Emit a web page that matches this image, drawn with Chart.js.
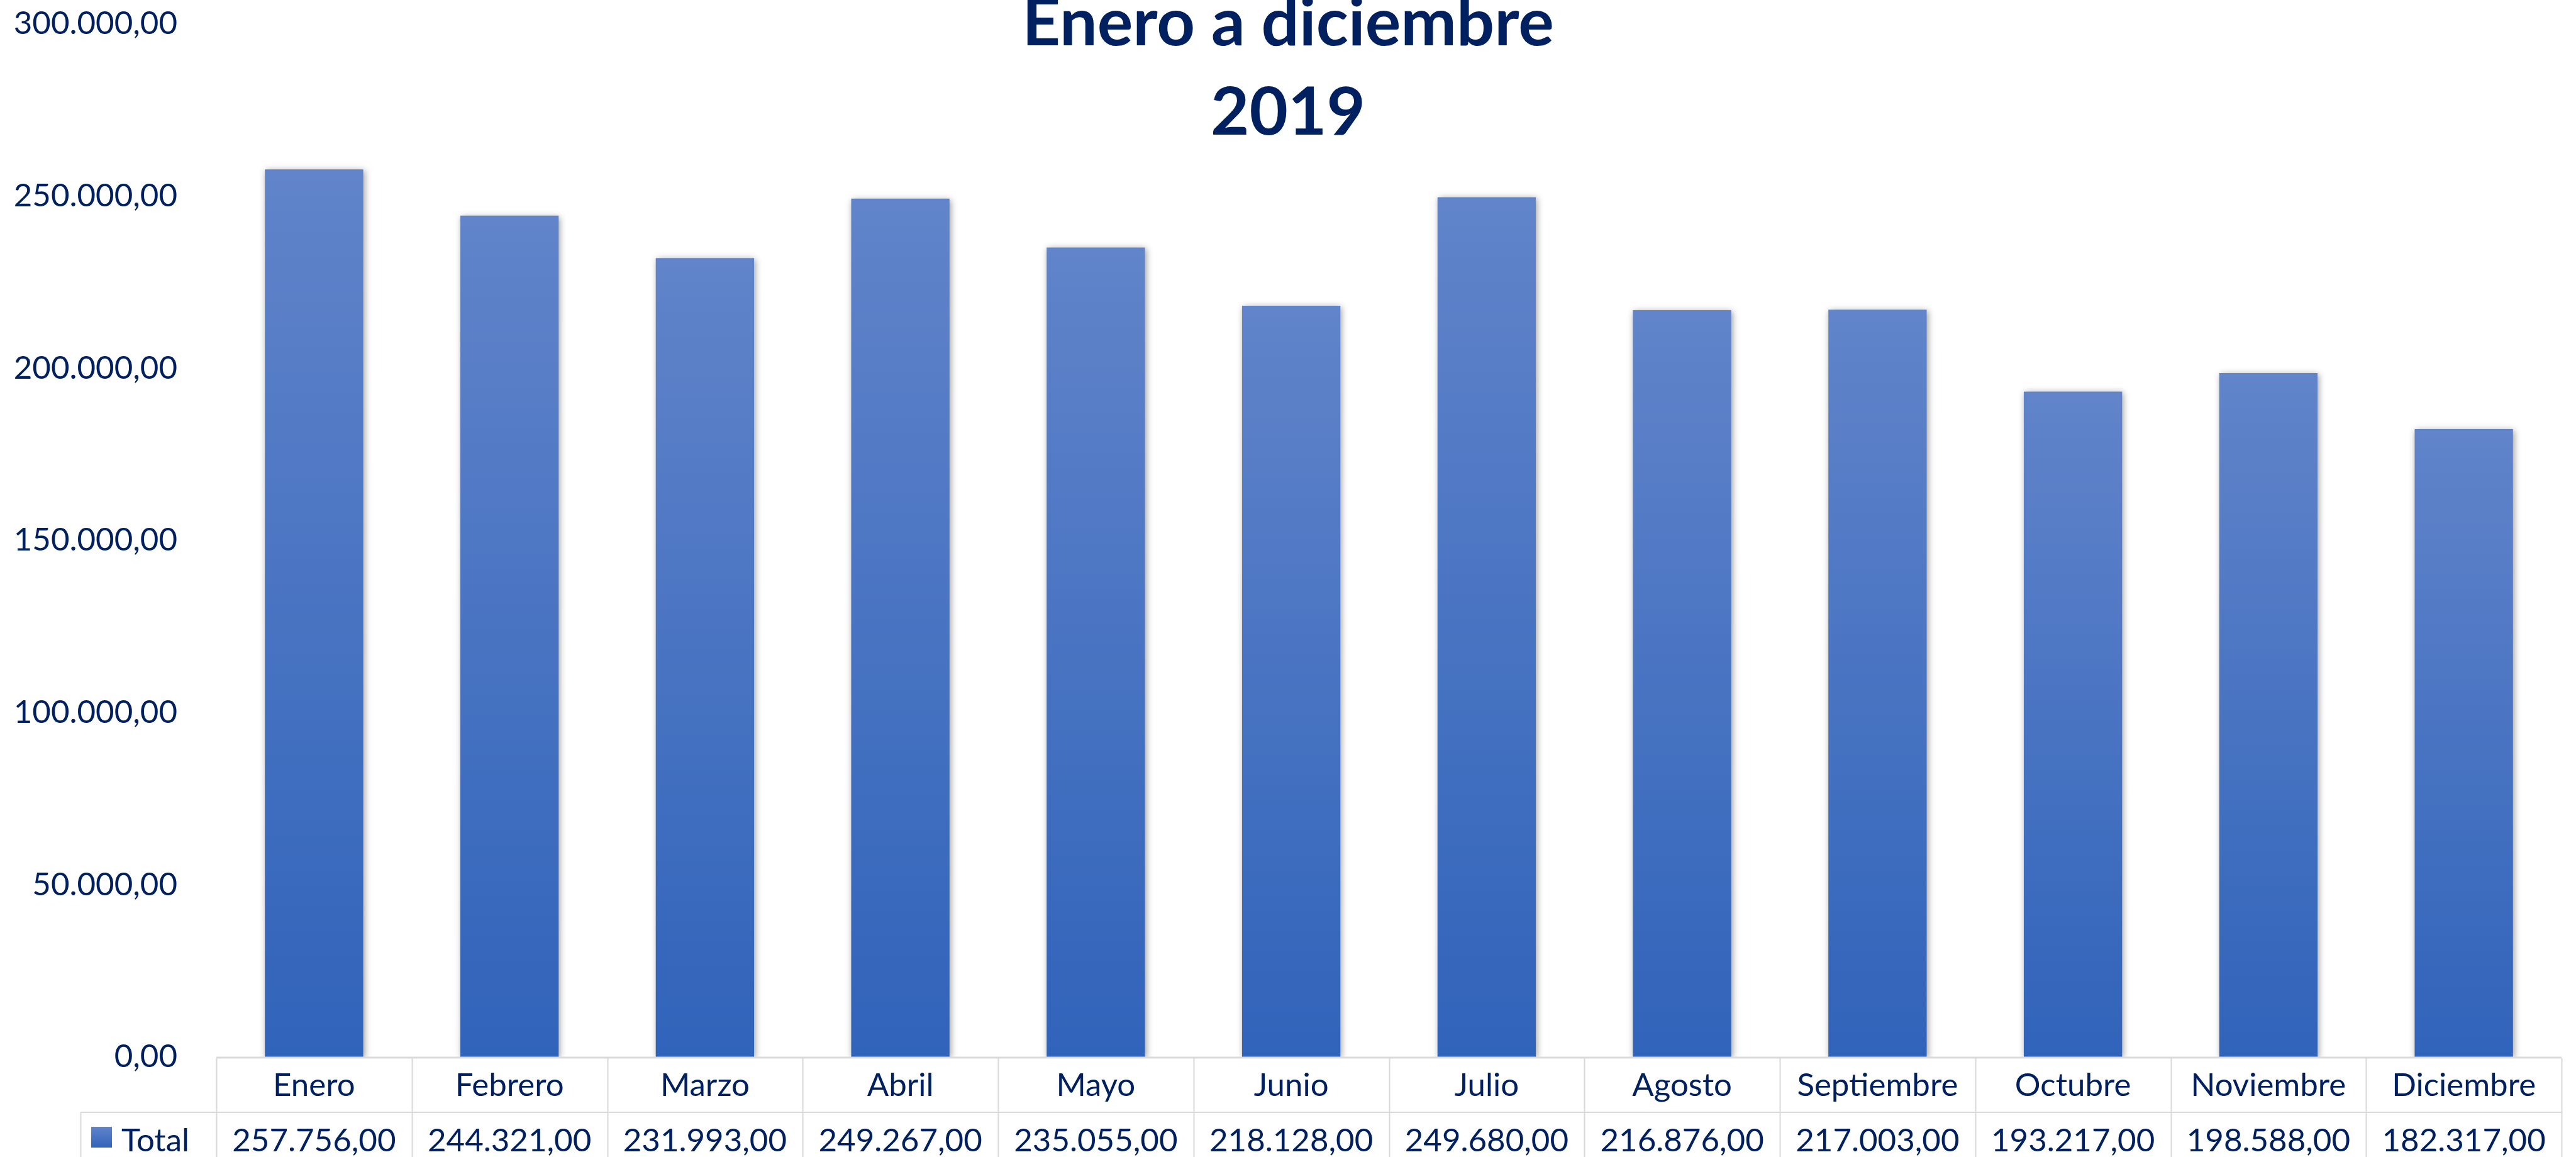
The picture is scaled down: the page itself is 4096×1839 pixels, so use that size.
<!DOCTYPE html>
<html>
<head>
<meta charset="utf-8">
<script src="https://cdn.jsdelivr.net/npm/chart.js@4.4.0/dist/chart.umd.min.js"></script>
<style>
  html, body { margin: 0; padding: 0; background: #fff; overflow: hidden; }
  #wrap { width: 4096px; height: 1839px; position: relative; }
</style>
</head>
<body>
<div id="wrap"><canvas id="chart"></canvas></div>
<script>
// ── data ────────────────────────────────────────────────
const months = ["Enero", "Febrero", "Marzo", "Abril", "Mayo", "Junio",
                "Julio", "Agosto", "Septiembre", "Octubre", "Noviembre", "Diciembre"];
const totals = [257756, 244321, 231993, 249267, 235055, 218128,
                249680, 216876, 217003, 193217, 198588, 182317];
const seriesName = "Total";
const titleLines = ["Enero a diciembre", "2019"];
const yMin = 0;
const yMax = 300000;
const yStep = 50000;

// ── look ────────────────────────────────────────────────
const NAVY = "#002060";
const GRID = "#d9d9d9";
const BAR_TOP = "#6184ca";
const BAR_BOTTOM = "#3063ba";
const FONT = "Lato, 'Open Sans', sans-serif";
const TICK_SIZE = 51;
const TITLE_SIZE = 106;

// 300000 -> "300.000,00"
function fmtEs(v) {
  const parts = Math.abs(v).toFixed(2).split(".");
  const ent = parts[0].replace(/\B(?=(\d{3})+(?!\d))/g, ".");
  return (v < 0 ? "-" : "") + ent + "," + parts[1];
}

function vGradient(ctx, top, bottom) {
  const g = ctx.createLinearGradient(0, top, 0, bottom);
  g.addColorStop(0, BAR_TOP);
  g.addColorStop(1, BAR_BOTTOM);
  return g;
}

// soft grey shadow round the bars
const barShadow = {
  id: "barShadow",
  beforeDatasetsDraw(chart) {
    const ctx = chart.ctx;
    ctx.save();
    ctx.shadowColor = "rgba(0,0,0,0.38)";
    ctx.shadowBlur = 10;
    ctx.shadowOffsetX = 2;
    ctx.shadowOffsetY = 2;
  },
  afterDatasetsDraw(chart) {
    chart.ctx.restore();
  },
};

// title + data table under the plot
const tableAndTitle = {
  id: "tableAndTitle",
  afterDraw(chart) {
    const ctx = chart.ctx;
    const x = chart.scales.x;
    const area = chart.chartArea;
    const colW = x.getPixelForValue(1) - x.getPixelForValue(0);
    const left = x.getPixelForValue(0) - colW / 2;
    const right = x.getPixelForValue(months.length - 1) + colW / 2;
    const axisY = area.bottom;
    const rowH = 88;
    const row2Y = axisY + rowH;
    const keyLeft = 128;
    const bottom = chart.height + 40;

    ctx.save();
    // grid of the table
    ctx.strokeStyle = GRID;
    ctx.lineWidth = 3;
    ctx.beginPath();
    ctx.moveTo(left, axisY + 1);
    ctx.lineTo(right, axisY + 1);
    ctx.stroke();

    ctx.lineWidth = 2;
    ctx.beginPath();
    ctx.moveTo(keyLeft, row2Y);
    ctx.lineTo(right, row2Y);
    for (let i = 0; i <= months.length; i++) {
      const xx = Math.round(left + i * colW) + 0.5;
      ctx.moveTo(xx, axisY + 2);
      ctx.lineTo(xx, bottom);
    }
    ctx.moveTo(keyLeft + 0.5, row2Y);
    ctx.lineTo(keyLeft + 0.5, bottom);
    ctx.stroke();

    // category names and values
    ctx.fillStyle = NAVY;
    ctx.font = TICK_SIZE + "px " + FONT;
    ctx.textAlign = "center";
    ctx.textBaseline = "middle";
    months.forEach((m, i) => {
      const cx = x.getPixelForValue(i);
      ctx.fillText(m, cx, axisY + rowH / 2 + 2);
      ctx.fillText(fmtEs(totals[i]), cx, row2Y + rowH / 2 + 2);
    });

    // legend key
    const kx = 145, ky = row2Y + 23, ks = 33;
    ctx.fillStyle = vGradient(ctx, ky, ky + ks);
    ctx.fillRect(kx, ky, ks, ks);
    ctx.fillStyle = NAVY;
    ctx.textAlign = "left";
    ctx.fillText(seriesName, 193, row2Y + rowH / 2 + 2);

    // title, centred on the whole canvas
    ctx.font = "bold " + TITLE_SIZE + "px " + FONT;
    ctx.textAlign = "center";
    ctx.textBaseline = "alphabetic";
    ctx.fillText(titleLines[0], chart.width / 2, 72);
    ctx.fillText(titleLines[1], chart.width / 2, 214);
    ctx.restore();
  },
};

const ctx = document.getElementById("chart").getContext("2d");
new Chart(ctx, {
  type: "bar",
  data: {
    labels: months,
    datasets: [
      {
        label: seriesName,
        data: totals,
        backgroundColor: (c) => {
          const chart = c.chart;
          if (!chart.chartArea || c.raw === undefined) return BAR_BOTTOM;
          const y = chart.scales.y;
          return vGradient(chart.ctx, y.getPixelForValue(c.raw), y.getPixelForValue(0));
        },
        borderWidth: 0,
        categoryPercentage: 1,
        barPercentage: 0.503,
      },
    ],
  },
  options: {
    responsive: true,
    maintainAspectRatio: false,
    animation: false,
    layout: { padding: { top: 38, right: 23, bottom: 159, left: 0 } },
    plugins: {
      legend: { display: false },
      title: { display: false },
      tooltip: { enabled: false },
    },
    scales: {
      x: {
        display: false,
      },
      y: {
        min: yMin,
        max: yMax,
        border: { display: false },
        grid: { display: false, drawTicks: false },
        afterFit: (scale) => {
          scale.width = 344;
          scale.paddingTop = 0;
          scale.paddingBottom = 0;
        },
        ticks: {
          stepSize: yStep,
          padding: 62,
          color: NAVY,
          font: { family: FONT, size: TICK_SIZE },
          callback: (v) => fmtEs(v),
        },
      },
    },
  },
  plugins: [barShadow, tableAndTitle],
});
</script>
</body>
</html>
